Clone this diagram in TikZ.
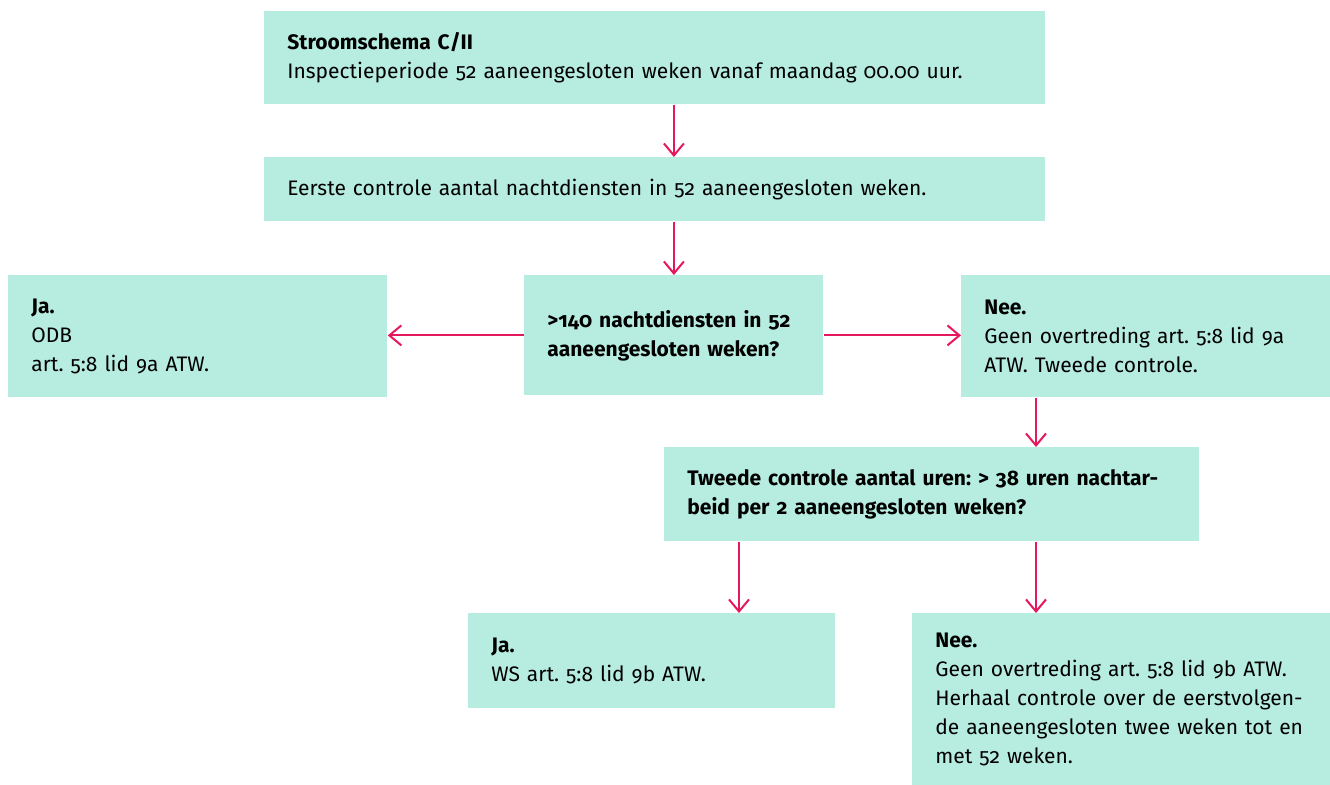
\documentclass[tikz,border=0pt]{standalone}
\usepackage{fontspec}
\setmainfont{Fira Sans}[Numbers=OldStyle]
\usetikzlibrary{arrows.meta}
\definecolor{mint}{HTML}{B7EDE0}
\definecolor{roze}{HTML}{E5175D}
\tikzset{
every picture/.style={x=0.5pt, y=-0.5pt},
blok/.style={fill=mint, anchor=north west, align=left, inner xsep=11.5pt,
  inner ysep=0pt, font=\fontsize{10.5}{14.5}\selectfont\frenchspacing},
pijl/.style={draw=roze, line width=1pt, -{Straight Barb[length=6pt, width=10pt]}}
}

\begin{document}
\begin{tikzpicture}
  \useasboundingbox (0,0) rectangle (1330,785);
  \node[blok, text width=367.5pt, minimum height=46.5pt] (kop) at (264,11)
    {\textbf{Stroomschema C/II}\\Inspectieperiode 52 aaneengesloten weken vanaf maandag 00.00 uur.};
  \node[blok, text width=367.5pt, minimum height=32pt] (eerste) at (264,157)
    {Eerste controle aantal nachtdiensten in 52 aaneengesloten weken.};
  \node[blok, text width=166.5pt, minimum height=61pt] (jalinks) at (8,275)
    {\textbf{Ja.}\\ODB\\art. 5:8 lid 9a ATW.};
  \node[blok, text width=126.5pt, minimum height=60pt] (vraag) at (524,275)
    {\bfseries >140 nachtdiensten in 52\\aaneengesloten weken?};
  \node[blok, text width=161.5pt, minimum height=61pt] (neerechts) at (961,275)
    {\textbf{Nee.}\\Geen overtreding art. 5:8 lid 9a\\ATW. Tweede controle.};
  \node[blok, text width=244.5pt, minimum height=47pt] (tweede) at (664,447)
    {\bfseries Tweede controle aantal uren: > 38 uren nachtar-\\beid per 2 aaneengesloten weken?};
  \node[blok, text width=160.5pt, minimum height=47.5pt] (jaonder) at (468,613)
    {\textbf{Ja.}\\WS art. 5:8 lid 9b ATW.};
  \node[blok, text width=186pt, minimum height=86pt] (neeonder) at (912,613)
    {\textbf{Nee.}\\Geen overtreding art. 5:8 lid 9b ATW.\\Herhaal controle over de eerstvolgen-\\de aaneengesloten twee weken tot en\\met 52 weken.};
  % verbindingen
  \coordinate (rechtsaf) at ([xshift=186pt]tweede.south west);
  \coordinate (linksaf) at ([xshift=37.5pt]tweede.south west);
  \draw[pijl] (kop.south -| vraag.north) -- (eerste.north -| vraag.north);
  \draw[pijl] (eerste.south -| vraag.north) -- (vraag.north);
  \draw[pijl] (vraag.west) -- (vraag.west -| jalinks.east);
  \draw[pijl] (vraag.east) -- (vraag.east -| neerechts.west);
  \draw[pijl] (neerechts.south -| rechtsaf) -- (tweede.north -| rechtsaf);
  \draw[pijl] (linksaf) -- (linksaf |- jaonder.north);
  \draw[pijl] (rechtsaf) -- (rechtsaf |- neeonder.north);
\end{tikzpicture}
\end{document}
